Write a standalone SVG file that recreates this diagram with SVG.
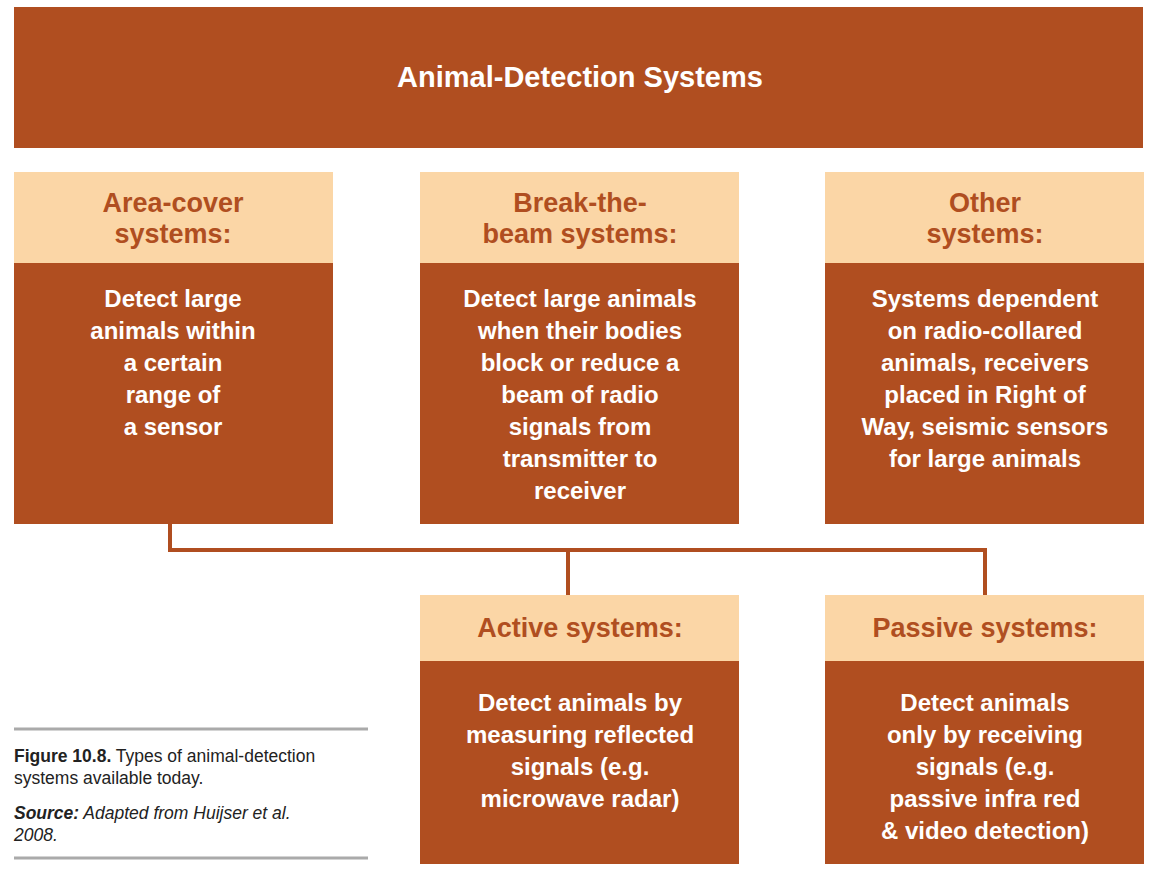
<svg xmlns="http://www.w3.org/2000/svg" width="1150" height="881" viewBox="0 0 1150 881">
<style>
.dark{fill:#B04E20}
.light{fill:#FBD6A6}
.title{font-family:"Liberation Sans",Arial,sans-serif;font-weight:bold;font-size:29px;fill:#fff;text-anchor:middle}
.hd{font-family:"Liberation Sans",Arial,sans-serif;font-weight:bold;font-size:27px;fill:#B04E20;text-anchor:middle}
.bd{font-family:"Liberation Sans",Arial,sans-serif;font-weight:bold;font-size:24px;fill:#fff;text-anchor:middle}
.cap{font-family:"Liberation Sans",Arial,sans-serif;font-size:17.5px;fill:#222}
.conn{stroke:#B04E20;stroke-width:4;fill:none}
.rule{stroke:#aaa;stroke-width:3}
</style>
<rect width="1150" height="881" fill="#fff"/>
<g id="title">
<rect class="dark" x="14" y="7" width="1129" height="141"/>
<text class="title" x="580" y="87">Animal-Detection Systems</text>
</g>
<g id="connectors">
<path class="conn" d="M170 524 V550 H985 V595 M568 550 V595"/>
</g>
<g id="area-cover">
<rect class="light" x="14" y="172" width="319" height="92"/>
<rect class="dark" x="14" y="263" width="319" height="261"/>
<text class="hd" x="173" y="212">Area-cover</text>
<text class="hd" x="173" y="243">systems:</text>
<text class="bd" x="173" y="307">Detect large</text>
<text class="bd" x="173" y="339">animals within</text>
<text class="bd" x="173" y="371">a certain</text>
<text class="bd" x="173" y="403">range of</text>
<text class="bd" x="173" y="435">a sensor</text>
</g>
<g id="break-the-beam">
<rect class="light" x="420" y="172" width="319" height="92"/>
<rect class="dark" x="420" y="263" width="319" height="261"/>
<text class="hd" x="580" y="212">Break-the-</text>
<text class="hd" x="580" y="243">beam systems:</text>
<text class="bd" x="580" y="307">Detect large animals</text>
<text class="bd" x="580" y="339">when their bodies</text>
<text class="bd" x="580" y="371">block or reduce a</text>
<text class="bd" x="580" y="403">beam of radio</text>
<text class="bd" x="580" y="435">signals from</text>
<text class="bd" x="580" y="467">transmitter to</text>
<text class="bd" x="580" y="499">receiver</text>
</g>
<g id="other">
<rect class="light" x="825" y="172" width="319" height="92"/>
<rect class="dark" x="825" y="263" width="319" height="261"/>
<text class="hd" x="985" y="212">Other</text>
<text class="hd" x="985" y="243">systems:</text>
<text class="bd" x="985" y="307">Systems dependent</text>
<text class="bd" x="985" y="339">on radio-collared</text>
<text class="bd" x="985" y="371">animals, receivers</text>
<text class="bd" x="985" y="403">placed in Right of</text>
<text class="bd" x="985" y="435">Way, seismic sensors</text>
<text class="bd" x="985" y="467">for large animals</text>
</g>
<g id="active">
<rect class="light" x="420" y="595" width="319" height="67"/>
<rect class="dark" x="420" y="661" width="319" height="203"/>
<text class="hd" x="580" y="637">Active systems:</text>
<text class="bd" x="580" y="711">Detect animals by</text>
<text class="bd" x="580" y="743">measuring reflected</text>
<text class="bd" x="580" y="775">signals (e.g.</text>
<text class="bd" x="580" y="807">microwave radar)</text>
</g>
<g id="passive">
<rect class="light" x="825" y="595" width="319" height="67"/>
<rect class="dark" x="825" y="661" width="319" height="203"/>
<text class="hd" x="985" y="637">Passive systems:</text>
<text class="bd" x="985" y="711">Detect animals</text>
<text class="bd" x="985" y="743">only by receiving</text>
<text class="bd" x="985" y="775">signals (e.g.</text>
<text class="bd" x="985" y="807">passive infra red</text>
<text class="bd" x="985" y="839">&amp; video detection)</text>
</g>
<g id="caption">
<line class="rule" x1="14" y1="729" x2="368" y2="729"/>
<line class="rule" x1="14" y1="858" x2="368" y2="858"/>
<text class="cap" x="14" y="762"><tspan font-weight="bold">Figure 10.8.</tspan> Types of animal-detection</text>
<text class="cap" x="14" y="784">systems available today.</text>
<text class="cap" x="14" y="819" font-style="italic"><tspan font-weight="bold">Source:</tspan> Adapted from Huijser et al.</text>
<text class="cap" x="14" y="841" font-style="italic">2008.</text>
</g>
</svg>
